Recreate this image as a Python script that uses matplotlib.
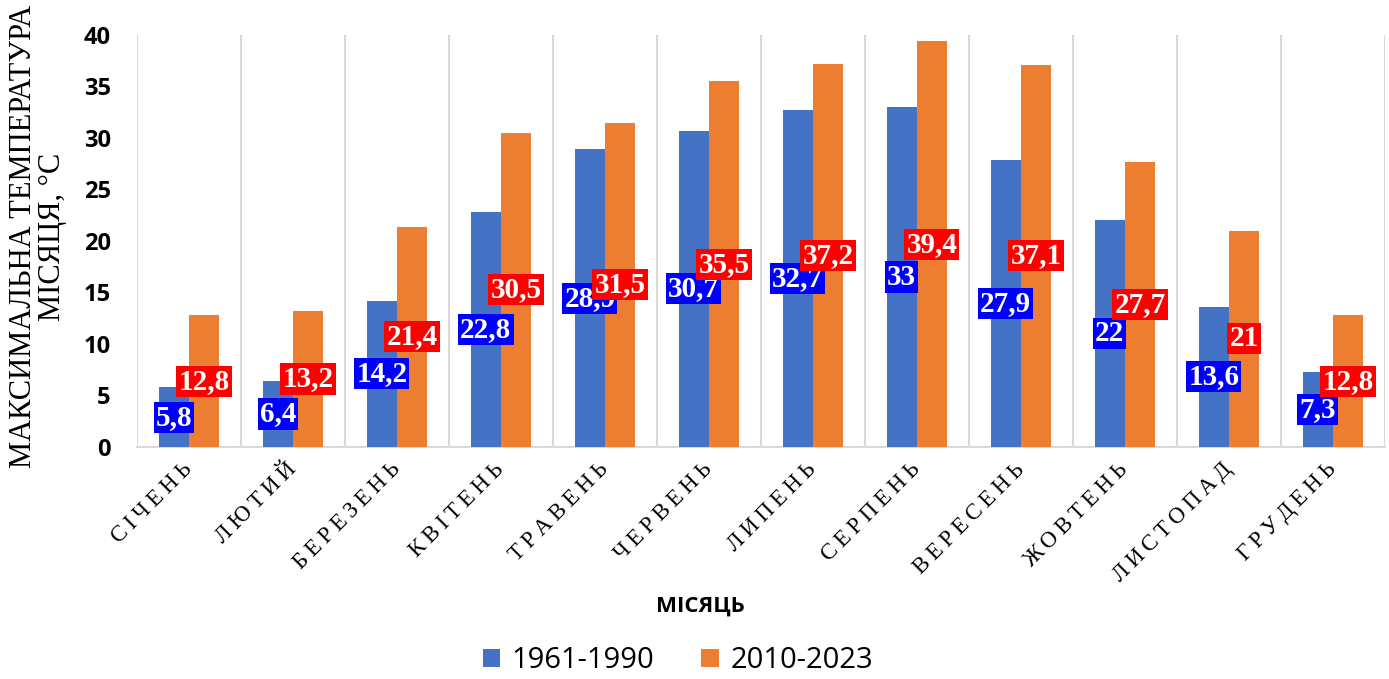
import matplotlib.pyplot as plt
import numpy as np

months = ['СІЧЕНЬ', 'ЛЮТИЙ', 'БЕРЕЗЕНЬ', 'КВІТЕНЬ', 'ТРАВЕНЬ', 'ЧЕРВЕНЬ',
          'ЛИПЕНЬ', 'СЕРПЕНЬ', 'ВЕРЕСЕНЬ', 'ЖОВТЕНЬ', 'ЛИСТОПАД', 'ГРУДЕНЬ']
t_1961_1990 = [5.8, 6.4, 14.2, 22.8, 28.9, 30.7, 32.7, 33, 27.9, 22, 13.6, 7.3]
t_2010_2023 = [12.8, 13.2, 21.4, 30.5, 31.5, 35.5, 37.2, 39.4, 37.1, 27.7, 21, 12.8]
series_names = ['1961-1990', '2010-2023']

SERIF = ['Liberation Serif', 'DejaVu Serif']
SANS = ['Open Sans', 'DejaVu Sans']


def fmt(v):
    s = f'{v:g}'
    return s.replace('.', ',')


def spaced(s):
    # slight letter spacing like in the original labels
    return '\u2009'.join(s)


fig = plt.figure(figsize=(13.89, 6.79), dpi=100)
ax = fig.add_axes([0.0986, 0.3417, 0.8984, 0.6068])

x = np.arange(len(months))
w = 0.29
b1 = ax.bar(x - w / 2, t_1961_1990, w, color='#4472C4', label=series_names[0], zorder=3)
b2 = ax.bar(x + w / 2, t_2010_2023, w, color='#ED7D31', label=series_names[1], zorder=3)

# data labels in the middle of each bar
for xi, v in zip(x, t_1961_1990):
    ax.text(xi - w / 2, v / 2, fmt(v), ha='center', va='center', color='white',
            fontsize=21, fontweight='bold', family=SERIF, zorder=4,
            bbox=dict(boxstyle='square,pad=0.07', fc='#0000FF', ec='none'))
for xi, v in zip(x, t_2010_2023):
    ax.text(xi + w / 2, v / 2, fmt(v), ha='center', va='center', color='white',
            fontsize=21, fontweight='bold', family=SERIF, zorder=5,
            bbox=dict(boxstyle='square,pad=0.07', fc='#FF0000', ec='none'))

ax.set_xlim(-0.5, len(months) - 0.5)
ax.set_ylim(0, 40)
ax.set_yticks(range(0, 41, 5))
ax.set_yticklabels([str(v) for v in range(0, 41, 5)], fontsize=17,
                   fontweight='bold', family=SANS)

# vertical separators between categories
for b in np.arange(-0.5, len(months), 1.0):
    ax.axvline(b, color='#D9D9D9', lw=1.5, zorder=1)

ax.set_xticks(x)
ax.set_xticklabels([spaced(m) for m in months], rotation=45, ha='right',
                   va='center', rotation_mode='anchor', fontsize=16.5, family=SERIF)
ax.tick_params(axis='x', length=0, pad=14)
ax.tick_params(axis='y', length=0, pad=19)

for s in ['top', 'right', 'left']:
    ax.spines[s].set_visible(False)
ax.spines['bottom'].set_color('#D9D9D9')
ax.spines['bottom'].set_linewidth(1.5)

ax.set_ylabel('МАКСИМАЛЬНА ТЕМПЕРАТУРА\nМІСЯЦЯ, °С', fontsize=22,
              family=SERIF, linespacing=1.0)
ax.yaxis.set_label_coords(-0.056, 0.51)
fig.text(0.504, 0.107, 'МІСЯЦЬ', ha='center', va='center', fontsize=16,
         fontweight='bold', family=SANS)

fig.legend(handles=[b1, b2], loc='center', bbox_to_anchor=(0.488, 0.027),
           ncol=2, frameon=False, prop={'family': SANS, 'size': 21},
           handlelength=0.6, handleheight=0.6, handletextpad=0.4,
           columnspacing=1.6)

fig.savefig('out.png', dpi=100)
